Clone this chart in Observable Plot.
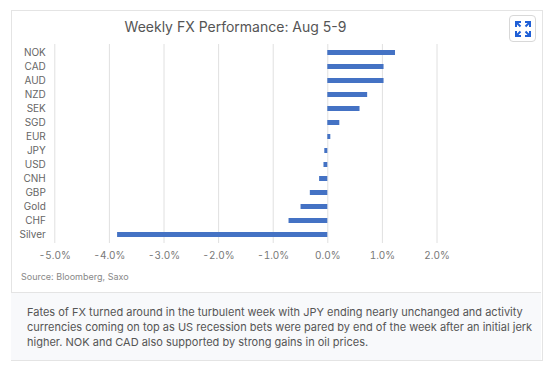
<!DOCTYPE html>
<html>
<head>
<meta charset="utf-8">
<script src="https://cdn.jsdelivr.net/npm/d3@7"></script>
<script src="https://cdn.jsdelivr.net/npm/@observablehq/plot@0.6"></script>
<style>
  html, body { margin: 0; padding: 0; background: #fff; width: 554px; height: 365px; overflow: hidden; font-family: Inter, "Noto Sans", sans-serif; }
  #card { position: absolute; left: 11px; top: 10px; width: 530px; height: 349px; border: 1px solid #e4e4e4; box-sizing: content-box; }
  #title { position: absolute; left: 0; top: 18px; width: 471px; text-align: center; font-size: 14px; color: #555; white-space: nowrap; }
  #btn { position: absolute; left: 509px; top: 15px; width: 27px; height: 27px; border: 1px solid #d8d8d8; border-radius: 4px; background: #fff; box-sizing: border-box; }
  #btn svg { position: absolute; left: 5px; top: 5px; }
  #chart { position: absolute; left: 0; top: 36px; }
  #source { position: absolute; left: 21px; top: 271px; font-size: 9px; color: #888; white-space: nowrap; }
  #caption { position: absolute; left: 11px; top: 292px; width: 530px; height: 67px; background: #f8f9fb; border-top: 1px solid #e4e4e4; box-sizing: content-box; }
  #caption p { margin: 0; position: absolute; left: 16px; top: 12px; font-size: 11px; line-height: 15px; color: #555; white-space: nowrap; }
</style>
</head>
<body>
<div id="card"></div>
<div id="caption"><p>Fates of FX turned around in the turbulent week with JPY ending nearly unchanged and activity<br>currencies coming on top as US recession bets were pared by end of the week after an initial jerk<br>higher. NOK and CAD also supported by strong gains in oil prices.</p></div>
<div id="title">Weekly FX Performance: Aug 5-9</div>
<div id="btn"><svg width="16" height="16" viewBox="0 0 16 16" fill="none" stroke="#1f5fd6" stroke-width="2">
  <path d="M1 6V1h5M1 1l4.5 4.5"/><path d="M15 6V1h-5M15 1l-4.5 4.5"/>
  <path d="M1 10v5h5M1 15l4.5-4.5"/><path d="M15 10v5h-5M15 15l-4.5-4.5"/>
</svg></div>
<div id="chart"></div>
<div id="source">Source: Bloomberg, Saxo</div>
<script>
const currencies = ["NOK","CAD","AUD","NZD","SEK","SGD","EUR","JPY","USD","CNH","GBP","Gold","CHF","Silver"];
const changes = [1.24, 1.03, 1.03, 0.73, 0.59, 0.22, 0.055, -0.055, -0.07, -0.15, -0.32, -0.49, -0.71, -3.85];
const xTicks = [-5, -4, -3, -2, -1, 0, 1, 2];

const data = currencies.map((c, i) => ({cur: c, value: changes[i]}));

const chart = Plot.plot({
  width: 500,
  height: 230,
  marginTop: 8,
  marginBottom: 23,
  marginLeft: 54.3,
  marginRight: 63.5,
  style: {fontFamily: "Inter, 'Noto Sans', sans-serif", background: "transparent"},
  x: {domain: [-5, 2], ticks: xTicks, label: null},
  y: {domain: currencies, paddingInner: 0.66, paddingOuter: 0.33, label: null},
  marks: [
    Plot.gridX(xTicks, {stroke: "#e0e0e0", strokeOpacity: 1, strokeWidth: 1}),
    Plot.barX(data, {x: "value", y: "cur", fill: "#4472c4"}),
    Plot.axisX(xTicks, {tickSize: 0, tickPadding: 8, tickFormat: d => d.toFixed(1) + "%", fontSize: 10, fill: "#777", label: null}),
    Plot.axisY({tickSize: 0, tickPadding: 9, fontSize: 10, fill: "#666", label: null})
  ]
});
document.getElementById("chart").appendChild(chart);
</script>
</body>
</html>
